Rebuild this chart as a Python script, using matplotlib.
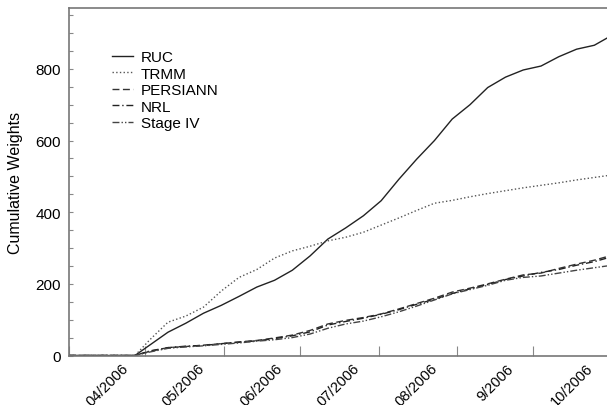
#! /usr/bin/env python3

import numpy as np
import pandas as pd
import matplotlib
matplotlib.use("Agg")
from matplotlib import pyplot as plt, ticker as mticker, dates as mdates

plt.rcParams['font.family'] = ['Liberation Sans', 'DejaVu Sans']

# sample dates
dates = pd.to_datetime([
    '2006-04-01', '2006-04-27', '2006-05-03', '2006-05-10', '2006-05-17', '2006-05-24',
    '2006-05-31', '2006-06-07', '2006-06-14', '2006-06-21', '2006-06-28', '2006-07-05',
    '2006-07-12', '2006-07-19', '2006-07-26', '2006-08-02', '2006-08-09', '2006-08-16',
    '2006-08-23', '2006-08-30', '2006-09-06', '2006-09-13', '2006-09-20', '2006-09-27',
    '2006-10-04', '2006-10-11', '2006-10-18', '2006-10-25', '2006-10-30'])

ruc = [0, 0, 30, 65, 90, 118, 140, 165, 191, 210, 238, 278, 325, 356, 390, 432, 492,
       548, 600, 660, 700, 748, 777, 797, 808, 834, 855, 866, 886]
trmm = [0, 0, 45, 93, 110, 135, 180, 218, 240, 272, 292, 305, 320, 330, 344, 364, 384,
        405, 425, 433, 443, 452, 460, 468, 475, 482, 490, 497, 502]
persiann = [0, 0, 12, 22, 25, 29, 33, 38, 42, 49, 57, 70, 88, 98, 106, 116, 130,
            145, 160, 177, 188, 200, 213, 225, 230, 243, 255, 266, 276]
nrl = [0, 0, 13, 22, 26, 28, 33, 37, 41, 47, 55, 66, 85, 95, 104, 115, 128,
       143, 157, 173, 186, 198, 212, 222, 232, 240, 252, 262, 272]
stage4 = [0, 0, 10, 20, 24, 27, 31, 35, 40, 44, 50, 60, 76, 88, 96, 108, 122,
          138, 155, 172, 184, 196, 210, 218, 222, 230, 238, 245, 250]

month_starts = pd.to_datetime(['2006-04-01', '2006-05-01', '2006-06-01', '2006-07-01',
                               '2006-08-01', '2006-09-01', '2006-10-01'])
month_mids = pd.to_datetime(['2006-04-16', '2006-05-16', '2006-06-16', '2006-07-16',
                             '2006-08-16', '2006-09-16', '2006-10-16'])
month_labels = ['04/2006', '05/2006', '06/2006', '07/2006', '08/2006', '9/2006', '10/2006']

fig = plt.figure(figsize=(6.07, 4.06), dpi=100)
ax = fig.add_axes([69/607, 1-356.5/406, 1-69/607, (356.5-9)/406])

ax.plot(dates, ruc, '-', color='#222222', lw=1.0, label='RUC')
ax.plot(dates, trmm, ':', color='#555555', lw=1.0, label='TRMM')
ax.plot(dates, persiann, '--', color='#333333', lw=1.0, dashes=(5, 2.5), label='PERSIANN')
ax.plot(dates, nrl, '-.', color='#222222', lw=1.0, dashes=(5, 2, 1, 2), label='NRL')
ax.plot(dates, stage4, color='#444444', lw=1.0, dashes=(5, 1.5, 1, 1.5, 1, 1.5), label='Stage IV')

ax.set_xlim(pd.Timestamp('2006-04-01'), pd.Timestamp('2006-10-30'))
ax.set_ylim(0, 970)

ax.xaxis.set_major_locator(mticker.FixedLocator(mdates.date2num(month_starts)))
ax.xaxis.set_major_formatter(mticker.NullFormatter())
ax.xaxis.set_minor_locator(mticker.FixedLocator(mdates.date2num(month_mids)))
ax.xaxis.set_minor_formatter(mticker.FixedFormatter(month_labels))
ax.tick_params(axis='x', which='major', direction='in', length=7, width=0.8, color='#888888')
ax.tick_params(axis='x', which='minor', length=0, pad=4, labelsize=10.5)
for lbl in ax.get_xticklabels(minor=True):
    lbl.set_rotation(45)
    lbl.set_ha('center')

ax.yaxis.set_major_locator(mticker.MultipleLocator(200))
ax.yaxis.set_minor_locator(mticker.MultipleLocator(50))
ax.tick_params(axis='y', which='both', direction='in', length=3, width=0.8, color='#888888',
               labelsize=11, pad=6)
ax.set_ylabel('Cumulative Weights', fontsize=11.5, labelpad=9)

for side in ['left', 'bottom', 'top']:
    ax.spines[side].set_color('#777777')
    ax.spines[side].set_linewidth(1.2)
ax.spines['right'].set_visible(False)

ax.legend(loc='upper left', bbox_to_anchor=(0.065, 0.9), frameon=False, fontsize=11,
          handlelength=1.4, handletextpad=0.5, labelspacing=0.16, borderpad=0)

fig.savefig('out.png', dpi=100)
